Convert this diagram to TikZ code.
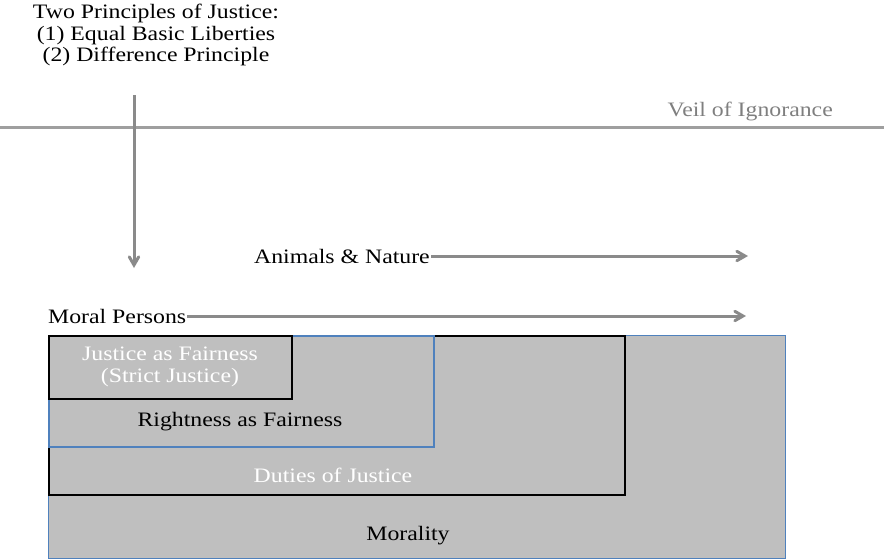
\documentclass[tikz,border=0pt]{standalone}
\usepackage{fontspec}
\setmainfont{Liberation Serif}[FakeStretch=1.16]
\usetikzlibrary{arrows,positioning}

\definecolor{fillgray}{HTML}{BFBFBF}
\definecolor{boxblue}{HTML}{4F81BD}
\definecolor{linegray}{HTML}{8A8A8A}
\definecolor{veilgray}{HTML}{7F7F7F}

\tikzset{
  lbl/.style={font=\fontsize{20.5}{21.5}\selectfont, inner sep=1pt},
  area/.style={fill=fillgray, anchor=north west, inner sep=0pt},
  flow/.style={->, >=angle 60, line width=3pt, linegray}
}

\begin{document}
\begin{tikzpicture}[x=1pt, y=-1pt]
  \useasboundingbox (0,0) rectangle (884,558);

  % above the veil
  \node[lbl, align=center] (principles) at (156,35) {Two Principles of Justice:\\(1) Equal Basic Liberties\\(2) Difference Principle};
  \node[lbl, anchor=east, text=veilgray] (veil) at (834,111) {Veil of Ignorance};
  \coordinate (veilL) at (0,127);
  \coordinate (veilR) at (884,127);
  \draw[line width=3pt, veilgray!75] (veilL) -- (veilR);

  % below the veil
  \coordinate (dropTop) at (134,95);
  \coordinate (dropEnd) at (134,268);
  \draw[flow] (dropTop) -- (dropEnd);

  \node[lbl, anchor=east] (animals) at (431,256) {Animals \& Nature};
  \coordinate (animalsEnd) at (748,256);
  \draw[flow] (animals) -- (animalsEnd);

  \node[lbl, anchor=west] (persons) at (47,316) {Moral Persons};
  \coordinate (personsEnd) at (746,316);
  \draw[flow] (persons) -- (personsEnd);

  % nested areas
  \node[area, draw=boxblue, line width=1.2pt, minimum width=737, minimum height=223] (morality) at (48,335) {};
  \node[area, draw=black, line width=2pt, minimum width=576, minimum height=159] (duties) at (48,335) {};
  \node[area, draw=boxblue, line width=2pt, minimum width=385, minimum height=111] (rightness) at (48,335) {};
  \node[area, draw=black, line width=2pt, minimum width=243, minimum height=63] (strict) at (48,335) {};

  \node[lbl] (moralityText) at (408,536) {Morality};
  \node[lbl, text=white] (dutiesText) at (333,475) {Duties of Justice};
  \node[lbl] (rightnessText) at (240,422) {Rightness as Fairness};
  \node[lbl, text=white, align=center] (strictText) at (170,367) {Justice as Fairness\\(Strict Justice)};
\end{tikzpicture}
\end{document}
